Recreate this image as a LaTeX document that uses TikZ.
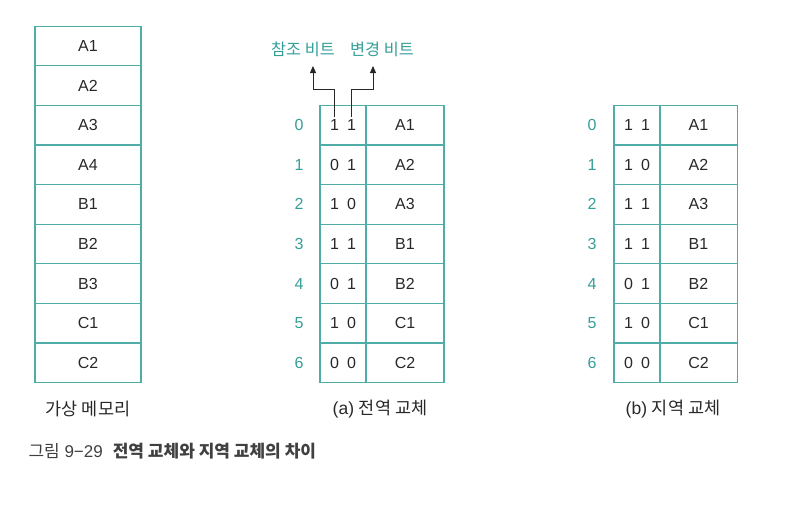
\documentclass[tikz,border=0pt]{standalone}
\usepackage{fontspec}
\setmainfont{Liberation Sans}
\newfontfamily\kr{Noto Sans CJK KR}
\usepackage{tikz}
\usetikzlibrary{arrows.meta,positioning,calc}
\usepackage{xcolor}
\definecolor{tealline}{RGB}{80,172,167}
\definecolor{tealtext}{RGB}{52,158,152}
\definecolor{inkgray}{RGB}{40,40,40}
\newcommand{\bitfont}{\fontsize{16}{19}\selectfont\spaceskip 8pt\relax}

\begin{document}
\begin{tikzpicture}[x=1pt, y=-1pt,
    cell/.style={rectangle, draw=tealline, line width=1.3pt, inner sep=0pt, outer sep=0pt,
                 minimum height=39.6pt, font=\fontsize{16}{19}\selectfont, text=inkgray},
    memcell/.style={cell, minimum width=106pt},
    bitcell/.style={cell, minimum width=46pt, font=\bitfont},
    pagecell/.style={cell, minimum width=78pt},
    idx/.style={font=\fontsize{16}{19}\selectfont, text=tealtext},
    tag/.style={font=\kr\fontsize{16.3}{19}\selectfont, text=tealtext},
    captext/.style={font=\fontsize{17.5}{20}\selectfont, text=inkgray},
    arr/.style={-{Triangle[length=7pt, width=6pt]}, line width=0.9pt, inkgray}
]
\useasboundingbox (0,0) rectangle (801,506);

% virtual memory
\node[memcell] (vm1) at (88,46.0)  {A1};
\node[memcell] (vm2) at (88,85.6)  {A2};
\node[memcell] (vm3) at (88,125.2) {A3};
\node[memcell] (vm4) at (88,164.8) {A4};
\node[memcell] (vm5) at (88,204.4) {B1};
\node[memcell] (vm6) at (88,244.0) {B2};
\node[memcell] (vm7) at (88,283.6) {B3};
\node[memcell] (vm8) at (88,323.2) {C1};
\node[memcell] (vm9) at (88,362.8) {C2};
\node[captext] (vmcap) at (88,409) {\kr 가상 메모리};

% (a) global replacement
\node[idx] (gi0) at (299,125.2) {0};
\node[idx] (gi1) at (299,164.8) {1};
\node[idx] (gi2) at (299,204.4) {2};
\node[idx] (gi3) at (299,244.0) {3};
\node[idx] (gi4) at (299,283.6) {4};
\node[idx] (gi5) at (299,323.2) {5};
\node[idx] (gi6) at (299,362.8) {6};
\node[bitcell]  (gb0) at (343,125.2) {1 1};
\node[bitcell]  (gb1) at (343,164.8) {0 1};
\node[bitcell]  (gb2) at (343,204.4) {1 0};
\node[bitcell]  (gb3) at (343,244.0) {1 1};
\node[bitcell]  (gb4) at (343,283.6) {0 1};
\node[bitcell]  (gb5) at (343,323.2) {1 0};
\node[bitcell]  (gb6) at (343,362.8) {0 0};
\node[pagecell] (gp0) at (405,125.2) {A1};
\node[pagecell] (gp1) at (405,164.8) {A2};
\node[pagecell] (gp2) at (405,204.4) {A3};
\node[pagecell] (gp3) at (405,244.0) {B1};
\node[pagecell] (gp4) at (405,283.6) {B2};
\node[pagecell] (gp5) at (405,323.2) {C1};
\node[pagecell] (gp6) at (405,362.8) {C2};
\node[captext] (gcap) at (380,409) {(a) {\kr 전역 교체}};

% reference / modified bit labels
\node[tag] (reftag) at (303,49) {참조 비트};
\node[tag] (modtag) at (382,49) {변경 비트};
\coordinate (refbit) at (334,117);
\coordinate (modbit) at (351,117);
\coordinate (reftip) at (313,66);
\coordinate (modtip) at (373,66);
\draw[arr] (refbit) -- ++(0,-28) -| (reftip);
\draw[arr] (modbit) -- ++(0,-28) -| (modtip);

% (b) local replacement
\node[idx] (li0) at (592,125.2) {0};
\node[idx] (li1) at (592,164.8) {1};
\node[idx] (li2) at (592,204.4) {2};
\node[idx] (li3) at (592,244.0) {3};
\node[idx] (li4) at (592,283.6) {4};
\node[idx] (li5) at (592,323.2) {5};
\node[idx] (li6) at (592,362.8) {6};
\node[bitcell]  (lb0) at (637,125.2) {1 1};
\node[bitcell]  (lb1) at (637,164.8) {1 0};
\node[bitcell]  (lb2) at (637,204.4) {1 1};
\node[bitcell]  (lb3) at (637,244.0) {1 1};
\node[bitcell]  (lb4) at (637,283.6) {0 1};
\node[bitcell]  (lb5) at (637,323.2) {1 0};
\node[bitcell]  (lb6) at (637,362.8) {0 0};
\node[pagecell] (lp0) at (698.5,125.2) {A1};
\node[pagecell] (lp1) at (698.5,164.8) {A2};
\node[pagecell] (lp2) at (698.5,204.4) {A3};
\node[pagecell] (lp3) at (698.5,244.0) {B1};
\node[pagecell] (lp4) at (698.5,283.6) {B2};
\node[pagecell] (lp5) at (698.5,323.2) {C1};
\node[pagecell] (lp6) at (698.5,362.8) {C2};
\node[captext] (lcap) at (673,409) {(b) {\kr 지역 교체}};

% figure caption
\node[captext, anchor=west, text=black!75, font=\fontsize{17}{20}\selectfont] (figcap) at (25,451)
    {{\kr 그림} 9−29\hspace{10pt}{\kr\bfseries 전역 교체와 지역 교체의 차이}};
\end{tikzpicture}
\end{document}
